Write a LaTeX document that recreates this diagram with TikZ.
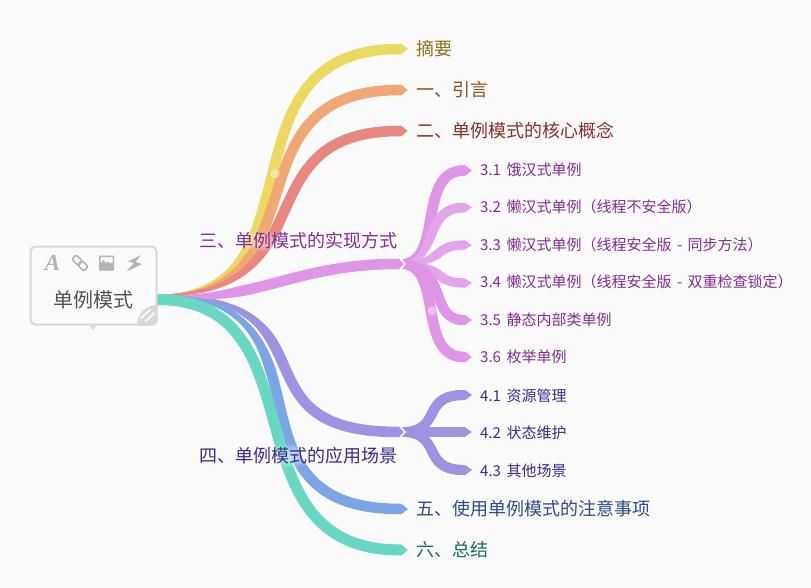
\documentclass[tikz,border=0pt]{standalone}
\usepackage{fontspec}
\setmainfont{Noto Sans CJK SC}
\newfontfamily\iconserif{Liberation Serif}
\definecolor{bgc}{HTML}{FBFBFB}
\definecolor{ribY}{HTML}{ECD95F}
\definecolor{ribO}{HTML}{F2A875}
\definecolor{ribP}{HTML}{E98881}
\definecolor{ribM}{HTML}{E096E8}
\definecolor{ribL}{HTML}{E3A4EB}
\definecolor{ribV}{HTML}{9E92E2}
\definecolor{ribB}{HTML}{7CA5E6}
\definecolor{ribG}{HTML}{68D8C3}
\definecolor{txtY}{HTML}{8A7418}
\definecolor{txtO}{HTML}{8A4A1C}
\definecolor{txtP}{HTML}{8A2E26}
\definecolor{txtM}{HTML}{842C94}
\definecolor{txtV}{HTML}{3A2C8E}
\definecolor{txtB}{HTML}{2C4A8C}
\definecolor{txtG}{HTML}{176E5E}
\definecolor{boxgrey}{HTML}{D8D8D8}
\definecolor{icongrey}{HTML}{B4B4B4}
\newcommand\wsp{\hspace{5.5pt}}
\tikzset{
  biglabel/.style={anchor=west,inner sep=0pt,font=\fontsize{18}{20}\selectfont},
  smalllabel/.style={anchor=west,inner sep=0pt,font=\fontsize{15}{18}\selectfont},
}
% #1 colour, #2 start, #3 #4 controls, #5 end, #6 w0, #7 w1, #8 fraction of the curve over which the width grows
\newcommand\ribbon[8]{%
  \pgfpointanchor{#2}{center}\pgfgetlastxy\xa\ya
  \pgfpointanchor{#3}{center}\pgfgetlastxy\xb\yb
  \pgfpointanchor{#4}{center}\pgfgetlastxy\xc\yc
  \pgfpointanchor{#5}{center}\pgfgetlastxy\xd\yd
  \foreach \i in {1,...,80}{%
    \pgfmathsetmacro\ta{(\i-1)/80}%
    \pgfmathsetmacro\tz{\i/80}%
    \pgfmathsetmacro\wdt{#6+(#7-#6)*min(1,\tz/#8)}%
    \pgfmathsetmacro\xp{(1-\ta)^3*\xa+3*(1-\ta)^2*\ta*\xb+3*(1-\ta)*\ta^2*\xc+\ta^3*\xd}%
    \pgfmathsetmacro\yp{(1-\ta)^3*\ya+3*(1-\ta)^2*\ta*\yb+3*(1-\ta)*\ta^2*\yc+\ta^3*\yd}%
    \pgfmathsetmacro\xq{(1-\tz)^3*\xa+3*(1-\tz)^2*\tz*\xb+3*(1-\tz)*\tz^2*\xc+\tz^3*\xd}%
    \pgfmathsetmacro\yq{(1-\tz)^3*\ya+3*(1-\tz)^2*\tz*\yb+3*(1-\tz)*\tz^2*\yc+\tz^3*\yd}%
    \draw[draw=#1,line width=\wdt pt,line cap=round] (\xp pt,\yp pt) -- (\xq pt,\yq pt);
  }%
  \fill[fill=#1] ([yshift=#7*0.5pt+0.4pt]#5) -- ([xshift=8pt]#5) -- ([yshift=-#7*0.5pt-0.4pt]#5) -- cycle;
}
% #1 colour, #2 name, #3 start, #4 y of end, #5 x of end, #6 #7 controls, #8 widths w0/w1/frac
\newcommand\branch[8]{%
  \coordinate (#2e) at (#5,#4);
  \coordinate (#2a) at (#6);
  \coordinate (#2b) at (#7);
  \ribbon{#1}{#3}{#2a}{#2b}{#2e}#8%
}
\begin{document}
\begin{tikzpicture}[x=1pt,y=-1pt]
\useasboundingbox (0,0) rectangle (811,588);
\fill[bgc] (0,0) rectangle (811,588);
\coordinate (o) at (157,295.5);
% first level
\branch{ribY}{ba}{o}{49}{400}{330,295.5}{212,49}{{1}{10.5}{0.4}}
\branch{ribO}{bb}{o}{90}{400}{332,295.5}{220,90}{{1}{10.5}{0.4}}
\branch{ribP}{bc}{o}{131}{400}{332,295.5}{238,131}{{1}{10.5}{0.4}}
\branch{ribV}{bd}{o}{432}{398}{345,295.5}{225,432}{{1}{10.5}{0.4}}
\branch{ribM}{be}{o}{264}{398}{255,305}{290,264}{{1}{10.5}{0.35}}
\branch{ribB}{bf}{o}{509}{400}{350,295.5}{208,509}{{1}{10.5}{0.4}}
\coordinate (og) at (157,299.5);
\branch{ribG}{bg}{og}{550}{400}{325,299.5}{222,550}{{11}{11}{1}}
% second level: 3.x
\coordinate (sm) at (400,264);
\branch{ribM}{ma}{sm}{170.5}{464}{445,264}{416,170.5}{{9}{10.5}{0.5}}
\branch{ribM}{mf}{sm}{357}{464}{445,264}{416,357}{{9}{10.5}{0.5}}
\branch{ribL}{mb}{sm}{207.5}{464}{440,264}{421,207.5}{{3}{9.5}{0.5}}
\branch{ribL}{mc}{sm}{245}{464}{445,264}{432,245}{{3}{9}{0.5}}
\branch{ribL}{md}{sm}{283}{464}{445,264}{432,283}{{3}{9}{0.5}}
\branch{ribM}{me}{sm}{320}{464}{450,264}{427,320}{{8}{10}{0.5}}
% second level: 4.x
\coordinate (sv) at (400,432);
\branch{ribV}{va}{sv}{395}{464}{445,432}{419,395}{{9}{10}{0.5}}
\branch{ribV}{vc}{sv}{470}{464}{445,432}{419,470}{{9}{10}{0.5}}
\branch{ribV}{vb}{sv}{432}{464}{430,432}{440,432}{{9}{9.5}{0.5}}
% chevrons
\draw[white,line width=1.6pt] (399.5,258) -- (405,264) -- (399.5,270);
\draw[white,line width=1.6pt] (399.5,426) -- (405,432) -- (399.5,438);
% glows and small dots
\foreach \s in {1,0.8,0.6,0.4}{
  \fill[white,opacity=0.13] (262,241) ellipse ({22*\s} and {10*\s});
  \fill[white,opacity=0.16] (290,456) ellipse ({26*\s} and {11*\s});
}
\fill[white,opacity=0.4] (275,173.5) circle (4.8);
\fill[white,opacity=0.4] (432,311) circle (4.6);
% root box
\node[draw=boxgrey,line width=2pt,rounded corners=5pt,fill=bgc,minimum width=126pt,minimum height=78pt,inner sep=0pt] (root) at (93.5,285.5) {};
\fill[boxgrey] (90,326) -- (96,326) -- (93,330) -- cycle;
\begin{scope}
  \clip[rounded corners=5pt] (root.south west) rectangle (root.north east);
  \fill[boxgrey] (157,325) circle (20);
\end{scope}
\draw[white,line width=1.6pt,line cap=round] (141,318) -- (150,310) (146,321) -- (154,313);
\node[inner sep=0pt,font=\fontsize{20}{22}\selectfont,text=black!68] (rootlabel) at (93,300) {单例模式};
% icons
\node[inner sep=0pt,text=icongrey,font=\iconserif\bfseries\itshape\fontsize{23}{23}\selectfont] (iconA) at (52.5,263) {A};
\begin{scope}[shift={(80,263)},rotate=-45]
  \draw[icongrey,line width=1.7pt,rounded corners=2.5pt] (-8.5,-3.2) rectangle (0.5,3.2);
  \draw[icongrey,line width=1.7pt,rounded corners=2.5pt] (-0.5,-3.2) rectangle (8.5,3.2);
\end{scope}
\fill[icongrey,even odd rule] (99,255.5) rectangle (114,270.5) (100.5,257) rectangle (112.5,263);
\fill[icongrey] (100,265) -- (103,260) -- (106,263) -- (108,261.5) -- (113,266) -- (113,270) -- (100,270) -- cycle;
\fill[icongrey] (141,255) -- (128,261.5) -- (134,263) -- (126.5,271.5) -- (142,264) -- (135.5,262) -- cycle;
% labels
\node[biglabel,text=txtY] (l0) at (416.5,48.5) {摘要};
\node[biglabel,text=txtO] (l1) at (416.5,89.5) {一、引言};
\node[biglabel,text=txtP] (l2) at (416.5,130.5) {二、单例模式的核心概念};
\node[biglabel,text=txtM] (l3) at (199,240.5) {三、单例模式的实现方式};
\node[biglabel,text=txtV] (l4) at (199,455.5) {四、单例模式的应用场景};
\node[biglabel,text=txtB] (l5) at (416.5,508.5) {五、使用单例模式的注意事项};
\node[biglabel,text=txtG] (l6) at (416.5,549.5) {六、总结};
\node[smalllabel,text=txtM] (m1) at (480,170) {3.1\wsp 饿汉式单例};
\node[smalllabel,text=txtM] (m2) at (480,207) {3.2\wsp 懒汉式单例（线程不安全版）};
\node[smalllabel,text=txtM] (m3) at (480,245) {3.3\wsp 懒汉式单例（线程安全版\wsp -\wsp 同步方法）};
\node[smalllabel,text=txtM] (m4) at (480,282) {3.4\wsp 懒汉式单例（线程安全版\wsp -\wsp 双重检查锁定）};
\node[smalllabel,text=txtM] (m5) at (480,319.5) {3.5\wsp 静态内部类单例};
\node[smalllabel,text=txtM] (m6) at (480,357) {3.6\wsp 枚举单例};
\node[smalllabel,text=txtV] (v1) at (480,395.5) {4.1\wsp 资源管理};
\node[smalllabel,text=txtV] (v2) at (480,433) {4.2\wsp 状态维护};
\node[smalllabel,text=txtV] (v3) at (480,470.5) {4.3\wsp 其他场景};
\end{tikzpicture}
\end{document}
